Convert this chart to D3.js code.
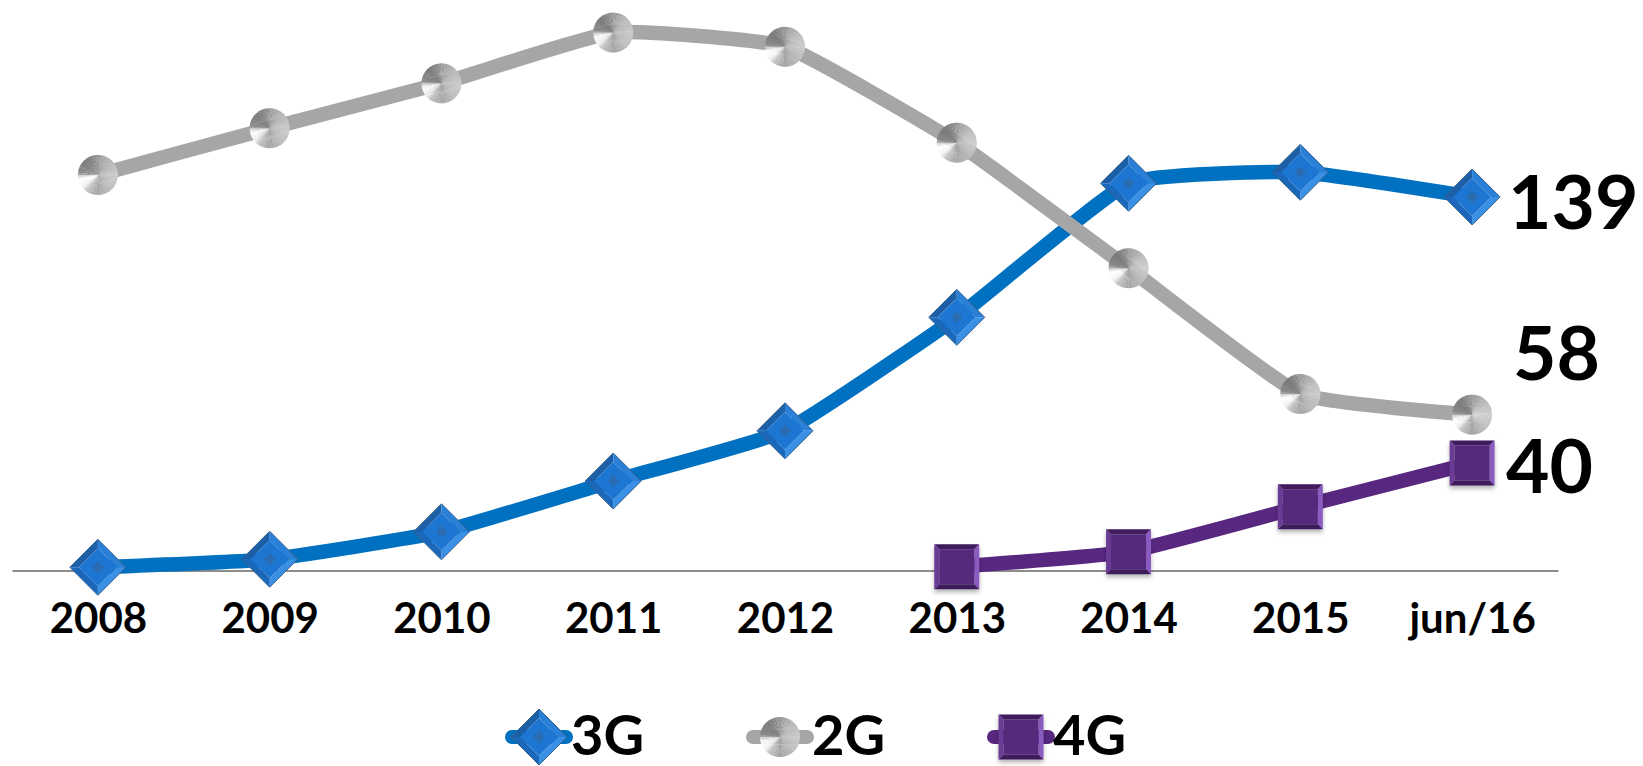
<!DOCTYPE html>
<html>
<head>
<meta charset="utf-8">
<script src="https://cdn.jsdelivr.net/npm/d3@7"></script>
<style>
  body { margin: 0; background: #fff; }
  svg { display: block; font-family: Lato, "Open Sans", sans-serif; font-weight: bold; }
</style>
</head>
<body>
<script>
// data (millions of lines)
const categories = ["2008", "2009", "2010", "2011", "2012", "2013", "2014", "2015", "jun/16"];
const values3G = [1.2, 4.2, 14.4, 33.3, 52.0, 94.2, 144.1, 148.2, 139];
const values2G = [147.2, 164.6, 181.3, 200.2, 194.9, 159.2, 112.5, 65.7, 58];
const values4G = [null, null, null, null, null, 1.4, 7.0, 23.7, 40];
const seriesNames = ["3G", "2G", "4G"];

function diamondMarker(g, r) {
    let ri = r - 9;
    let facets = [
        [[[-r, 0], [0, -r], [0, -ri], [-ri, 0]], "#1c5fa6"],
        [[[0, -r], [r, 0], [ri, 0], [0, -ri]], "#2a80d6"],
        [[[r, 0], [0, r], [0, ri], [ri, 0]], "#3a90e4"],
        [[[0, r], [-r, 0], [-ri, 0], [0, ri]], "#1b68ba"],
        [[[0, -ri], [ri, 0], [0, ri], [-ri, 0]], "#1d76d2"],
        [[[0, -6], [6, 0], [0, 6], [-6, 0]], "#2a6cb2"]
    ];
    facets.forEach(function(f) {
        g.append("path").attr("d", d3.line()(f[0]) + "Z").attr("fill", f[1]);
    });
    g.append("path")
        .attr("d", d3.line()([[0, -r], [r, 0], [0, r], [-r, 0]]) + "Z")
        .attr("fill", "none")
        .attr("stroke", "#35618f")
        .attr("stroke-width", 1);
}

function sphereMarker(g, r) {
    // brushed metal look, stops by angle (degrees from top, clockwise)
    let stops = [[0, "#9a9a9a"], [45, "#b8b8b8"], [90, "#cdcdcd"], [135, "#bdbdbd"], [180, "#a3a3a3"],
        [215, "#c2c2c2"], [232, "#f4f4f4"], [255, "#ffffff"], [266, "#dedede"], [276, "#8a8a8a"],
        [315, "#777777"], [340, "#868686"], [360, "#9a9a9a"]];
    let angle = d3.scaleLinear().domain(stops.map(s => s[0])).range(stops.map(s => s[1]));
    let arc = d3.arc().innerRadius(0).outerRadius(r);
    for (let a = 0; a < 360; a += 6) {
        g.append("path")
            .attr("d", arc({startAngle: a * Math.PI / 180, endAngle: (a + 6.6) * Math.PI / 180}))
            .attr("fill", angle(a + 3));
    }
}

function squareMarker(g, r) {
    let ri = r - 5;
    let facets = [
        [[[-r, -r], [r, -r], [ri, -ri], [-ri, -ri]], "#3f1c5e"],
        [[[r, -r], [r, r], [ri, ri], [ri, -ri]], "#8b5bbf"],
        [[[r, r], [-r, r], [-ri, ri], [ri, ri]], "#3d1a5b"],
        [[[-r, r], [-r, -r], [-ri, -ri], [-ri, ri]], "#6a3b95"],
        [[[-ri, -ri], [ri, -ri], [ri, ri], [-ri, ri]], "#54297b"]
    ];
    facets.forEach(function(f) {
        g.append("path").attr("d", d3.line()(f[0]) + "Z").attr("fill", f[1]);
    });
}

function main() {
    let width = 1643;
    let height = 766;

    let series = [
        {name: seriesNames[0], values: values3G, color: "#0070c0", marker: diamondMarker, size: 28, dx: 36, dy: 32},
        {name: seriesNames[1], values: values2G, color: "#a6a6a6", marker: sphereMarker, size: 20, dx: 41, dy: -35},
        {name: seriesNames[2], values: values4G, color: "#58277f", marker: squareMarker, size: 22.5, dx: 34, dy: 30}
    ];

    let svg = d3.select("body").append("svg")
        .attr("width", width)
        .attr("height", height);

    let defs = svg.append("defs");
    defs.append("filter")
        .attr("id", "shadow")
        .attr("x", "-50%").attr("y", "-50%").attr("width", "200%").attr("height", "200%")
        .append("feDropShadow")
        .attr("dx", 0).attr("dy", 3)
        .attr("stdDeviation", 2)
        .attr("flood-color", "#000")
        .attr("flood-opacity", 0.3);

    let xScale = d3.scalePoint().domain(categories).range([12, 1558]).padding(0.5);
    let yScale = d3.scaleLinear().domain([0, 210]).range([570.5, 6.2]);

    // x axis
    let xAxis = svg.append("g")
        .attr("transform", "translate(0, " + yScale(0) + ")")
        .call(d3.axisBottom(xScale).tickSize(0));
    xAxis.select(".domain")
        .attr("stroke", "#8c8c8c")
        .attr("stroke-width", 2);
    xAxis.selectAll("text")
        .attr("font-family", "Lato, sans-serif")
        .attr("font-weight", "bold")
        .attr("font-size", 42)
        .attr("fill", "#000")
        .attr("dy", 0)
        .attr("y", 62);

    let line = d3.line()
        .defined(d => d.v !== null)
        .curve(d3.curveCardinal.tension(0.6))
        .x(d => xScale(d.c))
        .y(d => yScale(d.v));

    series.forEach(function(s) {
        let pts = categories.map((c, i) => ({c: c, v: s.values[i]}));
        let g = svg.append("g");
        g.append("path")
            .datum(pts)
            .attr("d", line)
            .attr("fill", "none")
            .attr("stroke", s.color)
            .attr("stroke-width", 14.5);

        g.selectAll("g.mark")
            .data(pts.filter(d => d.v !== null))
            .enter()
            .append("g")
            .attr("class", "mark")
            .attr("filter", s.marker === squareMarker ? "url(#shadow)" : null)
            .attr("transform", d => "translate(" + xScale(d.c) + "," + yScale(d.v) + ")")
            .each(function() {
                s.marker(d3.select(this), s.size);
            });

        // end value label
        let last = pts[pts.length - 1];
        svg.append("text")
            .attr("x", xScale(last.c) + s.dx)
            .attr("y", yScale(last.v) + s.dy)
            .attr("font-size", 75)
            .attr("fill", "#000")
            .text(last.v);
    });

    // legend
    let legend = svg.append("g").attr("transform", "translate(0, 737)");
    series.forEach(function(s, i) {
        let cx = 539 + i * 241;
        let item = legend.append("g").attr("transform", "translate(" + cx + ", 0)");
        item.append("line")
            .attr("x1", -27).attr("x2", 27)
            .attr("stroke", s.color)
            .attr("stroke-width", 14)
            .attr("stroke-linecap", "round");
        let m = item.append("g").attr("filter", s.marker === squareMarker ? "url(#shadow)" : null);
        s.marker(m, s.size);
        item.append("text")
            .attr("x", 32)
            .attr("y", 18)
            .attr("font-size", 56)
            .attr("fill", "#000")
            .text(s.name);
    });
}

main();
</script>
</body>
</html>
